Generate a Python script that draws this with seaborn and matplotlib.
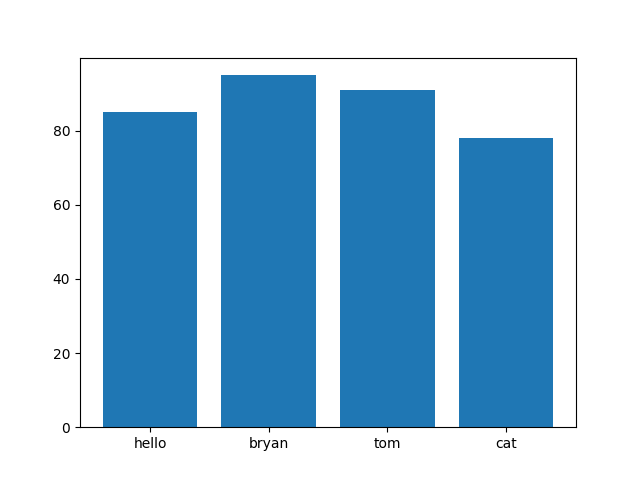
import matplotlib
matplotlib.use("Agg")
import matplotlib.pyplot as plt
import seaborn as sns
import pandas as pd

names = ["hello", "bryan", "tom", "cat"]
scores = [85, 95, 91, 78]

df = pd.DataFrame({"name": names, "score": scores})

fig, ax = plt.subplots(figsize=(6.4, 4.8), dpi=100)
sns.barplot(data=df, x="name", y="score", color="#1f77b4", saturation=1,
            width=0.8, errorbar=None, ax=ax)
ax.set_xlabel("")
ax.set_ylabel("")
ax.set_xlim(-0.59, 3.59)
ax.set_ylim(0, 99.75)
fig.savefig("out.png", dpi=100)
